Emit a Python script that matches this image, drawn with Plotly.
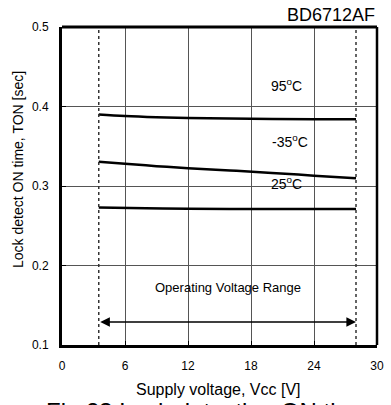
import plotly.graph_objects as go

x_95 = [3.5, 6, 9, 12, 18, 24, 28]
y_95 = [0.390, 0.388, 0.3865, 0.3855, 0.3845, 0.384, 0.384]
x_m35 = [3.5, 6, 9, 12, 16, 20, 24, 28]
y_m35 = [0.3306, 0.328, 0.325, 0.3223, 0.3195, 0.3165, 0.3130, 0.3096]
x_25 = [3.5, 8, 12, 18, 24, 28]
y_25 = [0.273, 0.272, 0.2715, 0.271, 0.271, 0.271]
range_v = [3.5, 28]
x_ticks = [0, 6, 12, 18, 24, 30]
y_ticks = [0.1, 0.2, 0.3, 0.4, 0.5]
labels = ["95<sup>o</sup>C", "-35<sup>o</sup>C", "25<sup>o</sup>C"]
label_pos = [(21.4, 0.427), (21.7, 0.3566), (21.4, 0.3044)]

FONT = "Liberation Sans, Arial, sans-serif"
fig = go.Figure()
for xs, ys in [(x_95, y_95), (x_m35, y_m35), (x_25, y_25)]:
    fig.add_trace(go.Scatter(x=xs, y=ys, mode="lines", line=dict(color="black", width=2.5, shape="spline"),
                             showlegend=False, hoverinfo="skip"))
for v in range_v:
    fig.add_trace(go.Scatter(x=[v, v], y=[0.1, 0.5], mode="lines", line=dict(color="#333", width=1.5, dash="dot"),
                             showlegend=False, hoverinfo="skip"))

for txt, (xx, yy) in zip(labels, label_pos):
    fig.add_annotation(x=xx, y=yy, text=txt, showarrow=False, font=dict(family=FONT, size=14, color="black"))

fig.add_annotation(x=range_v[1], y=0.129, ax=range_v[0], ay=0.129, xref="x", yref="y", axref="x", ayref="y",
                   text="", showarrow=True, arrowhead=2, arrowsize=1.2, arrowwidth=1.6, arrowside="end+start",
                   arrowcolor="black", standoff=0, startstandoff=0)
fig.add_annotation(x=15.8, y=0.172, text="Operating Voltage Range", showarrow=False,
                   font=dict(family=FONT, size=13, color="black"))

fig.add_annotation(xref="paper", yref="paper", x=1.0, y=1.0, xanchor="right", yanchor="bottom",
                   text="BD6712AF", showarrow=False, font=dict(family=FONT, size=18, color="black"))
# axis titles
fig.add_annotation(xref="paper", yref="paper", x=(222 - 62) / 322, y=(345 - 389) / 318, xanchor="center",
                   yanchor="middle", text="Supply voltage, Vcc [V]", showarrow=False,
                   font=dict(family=FONT, size=16, color="black"))
fig.add_annotation(xref="paper", yref="paper", x=(17 - 62) / 322, y=(345 - 169) / 318, xanchor="center",
                   yanchor="middle", textangle=-90, text="Lock detect ON time, TON [sec]", showarrow=False,
                   font=dict(family=FONT, size=14, color="black"))
fig.add_annotation(xref="paper", yref="paper", x=(211 - 62) / 322, y=-0.160, xanchor="center", yanchor="top",
                   text="Fig.23 Lock detection ON time", showarrow=False, font=dict(family=FONT, size=24, color="black"))

fig.update_xaxes(range=[0, 30], tickvals=x_ticks, showgrid=True, gridcolor="#555", gridwidth=1,
                 showline=True, linecolor="black", linewidth=3, mirror=False, ticks="inside", ticklen=4,
                 tickcolor="black", zeroline=False, ticklabelstandoff=8,
                 tickfont=dict(family=FONT, size=12, color="black"))
fig.update_yaxes(range=[0.1, 0.5], tickvals=y_ticks, ticktext=["0.1", "0.2", "0.3", "0.4", "0.5"],
                 showgrid=True, gridcolor="#555", gridwidth=1,
                 showline=True, linecolor="black", linewidth=3, mirror=False, ticks="inside", ticklen=4,
                 tickcolor="black", zeroline=False, ticklabelstandoff=8,
                 tickfont=dict(family=FONT, size=12, color="black"))
fig.add_shape(type="line", xref="paper", yref="paper", x0=0, x1=1, y0=1, y1=1, line=dict(color="black", width=3))
fig.add_shape(type="line", xref="paper", yref="paper", x0=1, x1=1, y0=0, y1=1, line=dict(color="black", width=2.5))

fig.update_layout(width=391, height=405, margin=dict(l=62, r=7, t=27, b=60),
                  paper_bgcolor="white", plot_bgcolor="white", font=dict(family=FONT))
fig.write_html("out.html", config={"displayModeBar": False},
               post_script="document.body.style.margin='0';document.body.style.overflow='hidden';")
